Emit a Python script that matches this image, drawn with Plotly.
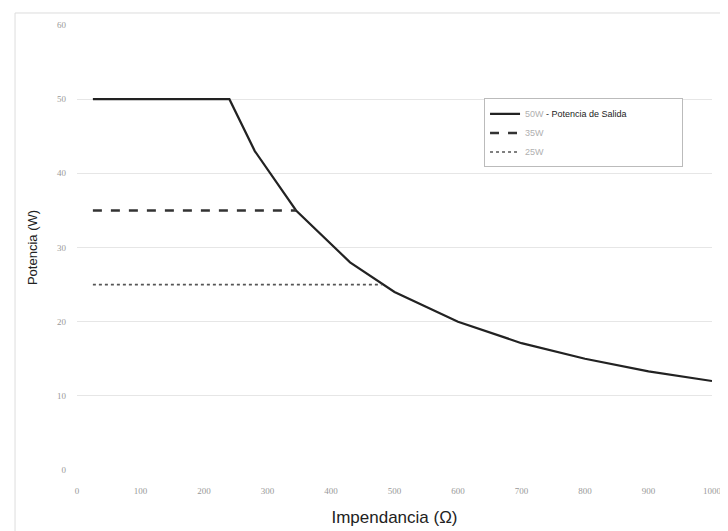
import plotly.graph_objects as go

# Data
imp_50w = [25, 240, 280, 345, 430, 500, 600, 700, 800, 900, 1000]
pot_50w = [50, 50, 43, 35, 28, 24, 20, 17.1, 15, 13.3, 12]
imp_35w = [25, 345]
pot_35w = [35, 35]
imp_25w = [25, 480]
pot_25w = [25, 25]

x_ticks = [0, 100, 200, 300, 400, 500, 600, 700, 800, 900, 1000]
y_ticks = [0, 10, 20, 30, 40, 50, 60]

fig = go.Figure()
fig.add_trace(go.Scatter(x=imp_50w, y=pot_50w, mode="lines",
                         name="<span style='color:#b0b0b0'>50W</span> - Potencia de Salida" + "&nbsp;" * 20,
                         line=dict(color="#222222", width=2.2)))
fig.add_trace(go.Scatter(x=imp_35w, y=pot_35w, mode="lines",
                         name="<span style='color:#b0b0b0'>35W</span>",
                         line=dict(color="#333333", width=2.5, dash="dash")))
fig.add_trace(go.Scatter(x=imp_25w, y=pot_25w, mode="lines",
                         name="<span style='color:#b0b0b0'>25W</span>",
                         line=dict(color="#555555", width=1.6, dash="dot")))

fig.update_layout(
    width=728, height=531,
    margin=dict(l=69, r=24, t=14, b=69),
    paper_bgcolor="white", plot_bgcolor="white",
    font=dict(family="Liberation Sans, Arial, sans-serif", color="#222222"),
    xaxis=dict(range=[0, 1000], tickvals=x_ticks, showgrid=False, zeroline=False,
               showline=False, ticks="", ticklabelstandoff=14,
               tickfont=dict(size=9, color="#999999", family="Liberation Serif, serif"),
               title=dict(text="Impendancia (Ω)", font=dict(size=17, color="#222222"), standoff=16)),
    yaxis=dict(range=[0, 60], tickvals=y_ticks, showgrid=True, gridcolor="#e6e6e6", gridwidth=1,
               zeroline=False, showline=False, ticks="", ticklabelstandoff=10,
               tickfont=dict(size=9, color="#999999", family="Liberation Serif, serif"),
               title=dict(text="Potencia (W)", font=dict(size=13, color="#222222"), standoff=16)),
    legend=dict(x=0.641, y=0.835, xanchor="left", yanchor="top",
                bgcolor="white", bordercolor="#bbbbbb", borderwidth=1,
                font=dict(size=9, color="#222222"), tracegroupgap=0,
                itemwidth=30),
    showlegend=True,
    shapes=[dict(type="rect", xref="paper", yref="paper", x0=-0.0976, x1=1.0205,
                 y0=-0.2, y1=1.027, line=dict(color="#dddddd", width=1), layer="below")],
)

fig.write_html("out.html")
